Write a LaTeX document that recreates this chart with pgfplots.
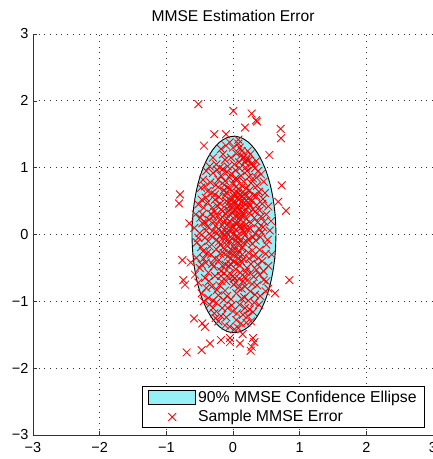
\documentclass[border=0pt]{standalone}
\usepackage{pgfplots}
\pgfplotsset{compat=1.18}
\usepackage{fontspec}
\setmainfont{Liberation Sans}
\definecolor{ellfill}{RGB}{150,240,248}
\definecolor{axgray}{RGB}{50,50,50}
\pgfplotsset{
  ellleg/.style={legend image code/.code={\draw[fill=ellfill,draw=black,line width=0.6pt] (0pt,-7pt) rectangle (47pt,7pt);}},
  markleg/.style={legend image code/.code={\draw[mark repeat=2,mark phase=2,##1] plot coordinates {(0pt,0pt) (23.5pt,0pt) (47pt,0pt)};}},
}
\begin{document}
\begin{tikzpicture}[x=1pt,y=1pt]
\begin{axis}[
  at={(33pt,24pt)}, anchor=south west,
  scale only axis, width=400pt, height=401pt,
  xmin=-3, xmax=3, ymin=-3, ymax=3,
  xtick={-3,-2,-1,0,1,2,3}, ytick={-3,-2,-1,0,1,2,3},
  xticklabels={−3,−2,−1,0,1,2,3}, yticklabels={−3,−2,−1,0,1,2,3},
  axis lines*=left,
  axis line style={axgray, line width=0.9pt},
  tick align=inside, major tick length=4pt,
  tick style={axgray, line width=0.6pt},
  grid=major,
  major grid style={color=black!80, line width=0.7pt, dash pattern=on 0.7pt off 5pt},
  tick label style={font=\fontsize{14.5}{16}\selectfont},
  xticklabel style={yshift=-4pt},
  yticklabel style={xshift=-1pt},
  title={MMSE Estimation Error},
  title style={at={(0.5,1)}, anchor=base, yshift=7pt, font=\fontsize{15.6}{17}\selectfont},
  legend style={at={(0.98,0.018)}, anchor=south east, draw=black, line width=0.6pt,
    font=\fontsize{15.8}{18}\selectfont, cells={anchor=west}, row sep=3pt,
    inner xsep=6pt, inner ysep=2pt},
  legend cell align=left,
]
\addplot[fill=ellfill, draw=black, line width=0.9pt, smooth, ellleg]
coordinates {
(0.645,0) (0.635,0.255) (0.607,0.503) (0.561,0.735) (0.498,0.945) (0.420,1.126) (0.330,1.273) (0.231,1.381) (0.124,1.448) (0.015,1.47)
(-0.094,1.448) (-0.201,1.381) (-0.300,1.273) (-0.390,1.126) (-0.468,0.945) (-0.531,0.735) (-0.577,0.503) (-0.605,0.255) (-0.615,0)
(-0.605,-0.255) (-0.577,-0.503) (-0.531,-0.735) (-0.468,-0.945) (-0.390,-1.126) (-0.300,-1.273) (-0.201,-1.381) (-0.094,-1.448) (0.015,-1.47)
(0.124,-1.448) (0.231,-1.381) (0.330,-1.273) (0.420,-1.126) (0.498,-0.945) (0.561,-0.735) (0.607,-0.503) (0.635,-0.255) (0.645,0)
};
\addlegendentry{90\% MMSE Confidence Ellipse}
\addplot[only marks, mark=x, mark size=5.5pt, red, mark options={line width=0.85pt}, markleg]
table[row sep=\\] {
x y\\
-0.52 1.95\\ 0.005 1.85\\ 0.28 1.81\\ 0.345 1.71\\ 0.36 1.69\\ 0.18 1.60\\ 0.715 1.58\\ 0.72 1.44\\
-0.28 1.50\\ -0.105 1.50\\ -0.435 1.33\\ 0.08 1.36\\ -0.105 1.33\\ 0.545 1.19\\
-0.795 0.60\\ -0.81 0.465\\ 0.73 0.735\\ 0.795 0.355\\ 0.68 0.49\\ -0.655 0.166\\
-0.76 -0.383\\ -0.745 -0.683\\ -0.72 -0.75\\ 0.845 -0.683\\ -0.635 -0.418\\ 0.53 -0.81\\ 0.63 -0.88\\ 0.49 -0.85\\
-0.585 -1.256\\ -0.46 -1.33\\ -0.42 -1.38\\ -0.695 -1.765\\ -0.47 -1.73\\ -0.345 -1.63\\ -0.18 -1.58\\
-0.045 -1.55\\ -0.045 -1.61\\ 0.105 -1.63\\ 0.145 -1.49\\ 0.30 -1.55\\ 0.32 -1.61\\ 0.28 -1.68\\ 0.265 -1.74\\
-0.25 1.05\\ -0.12 1.12\\ 0.05 1.21\\ 0.18 1.08\\ 0.30 1.02\\ 0.10 1.30\\ -0.05 1.38\\ 0.22 1.25\\ -0.30 1.15\\ 0.12 1.18\\
0.15 1.14\\ 0.16 1.16\\ 0.20 1.12\\ -0.18 1.28\\ 0.02 1.05\\ 0.35 1.10\\ -0.08 1.02\\ 0.26 1.20\\ 0.08 1.42\\ -0.20 1.00\\
-0.45 0.82\\ -0.38 0.65\\ -0.30 0.92\\ -0.22 0.71\\ -0.15 0.98\\ -0.10 0.63\\ -0.05 0.85\\ 0.00 0.75\\ 0.04 0.96\\ 0.08 0.68\\
0.12 0.88\\ 0.16 0.79\\ 0.21 0.95\\ 0.25 0.66\\ 0.30 0.84\\ 0.36 0.73\\ 0.42 0.90\\ 0.48 0.62\\ -0.34 0.78\\ -0.27 0.60\\
-0.12 0.80\\ 0.02 0.62\\ 0.18 0.61\\ 0.33 0.99\\ -0.40 0.95\\ 0.46 0.79\\ -0.02 0.91\\ 0.10 0.99\\ -0.18 0.88\\ 0.27 0.77\\
0.06 0.83\\ -0.24 0.97\\ 0.39 0.64\\ -0.08 0.70\\ 0.14 0.72\\ -0.48 0.70\\
-0.52 0.45\\ -0.46 0.30\\ -0.41 0.55\\ -0.36 0.22\\ -0.31 0.40\\ -0.27 0.52\\ -0.23 0.28\\ -0.19 0.46\\ -0.15 0.35\\ -0.12 0.58\\
-0.09 0.24\\ -0.06 0.42\\ -0.03 0.51\\ 0.00 0.33\\ 0.03 0.47\\ 0.05 0.26\\ 0.07 0.55\\ 0.10 0.38\\ 0.13 0.49\\ 0.16 0.29\\
0.19 0.57\\ 0.22 0.41\\ 0.25 0.32\\ 0.28 0.50\\ 0.32 0.25\\ 0.36 0.44\\ 0.40 0.36\\ 0.45 0.53\\ 0.50 0.30\\ 0.53 0.42\\
-0.44 0.40\\ -0.33 0.31\\ -0.21 0.56\\ -0.05 0.30\\ 0.01 0.58\\ 0.08 0.44\\ 0.11 0.22\\ 0.17 0.48\\ 0.24 0.55\\ 0.30 0.38\\
-0.38 0.48\\ -0.16 0.26\\ -0.01 0.40\\ 0.04 0.36\\ 0.14 0.34\\ 0.20 0.23\\ -0.28 0.34\\ -0.10 0.50\\ 0.35 0.57\\ -0.49 0.25\\
0.42 0.27\\ 0.09 0.52\\ -0.07 0.36\\ 0.26 0.44\\ -0.24 0.43\\
-0.58 0.10\\ -0.54 -0.12\\ -0.50 0.02\\ -0.46 0.17\\ -0.42 -0.05\\ -0.38 0.12\\ -0.35 -0.18\\ -0.31 0.05\\ -0.28 0.19\\ -0.25 -0.08\\
-0.22 0.08\\ -0.19 -0.15\\ -0.16 0.14\\ -0.13 0.00\\ -0.10 -0.10\\ -0.07 0.16\\ -0.04 0.04\\ -0.02 -0.06\\ 0.00 0.12\\ 0.02 -0.16\\
0.04 0.07\\ 0.06 -0.02\\ 0.08 0.18\\ 0.10 -0.09\\ 0.12 0.10\\ 0.14 -0.19\\ 0.17 0.03\\ 0.20 0.15\\ 0.23 -0.07\\ 0.26 0.09\\
0.29 -0.14\\ 0.33 0.01\\ 0.37 0.18\\ 0.41 -0.04\\ 0.45 0.11\\ 0.50 -0.15\\ 0.55 0.06\\ -0.48 -0.19\\ -0.40 0.06\\ -0.33 -0.02\\
-0.26 0.13\\ -0.20 -0.03\\ -0.14 0.19\\ -0.08 -0.17\\ -0.03 0.09\\ 0.01 0.01\\ 0.05 0.15\\ 0.09 -0.13\\ 0.15 0.06\\ 0.21 -0.11\\
0.27 0.17\\ 0.34 -0.09\\ 0.43 0.03\\ -0.12 0.06\\ 0.07 -0.05\\ -0.06 -0.11\\ 0.18 -0.01\\ -0.17 0.04\\ 0.11 0.13\\
-0.55 -0.35\\ -0.50 -0.50\\ -0.45 -0.25\\ -0.41 -0.42\\ -0.37 -0.57\\ -0.33 -0.30\\ -0.29 -0.48\\ -0.25 -0.22\\ -0.21 -0.38\\ -0.18 -0.55\\
-0.14 -0.28\\ -0.11 -0.45\\ -0.08 -0.33\\ -0.05 -0.58\\ -0.02 -0.24\\ 0.01 -0.41\\ 0.04 -0.52\\ 0.07 -0.30\\ 0.10 -0.46\\ 0.13 -0.21\\
0.16 -0.37\\ 0.19 -0.56\\ 0.23 -0.27\\ 0.27 -0.44\\ 0.31 -0.32\\ 0.35 -0.53\\ 0.40 -0.23\\ 0.44 -0.40\\ 0.49 -0.29\\ 0.53 -0.47\\
-0.47 -0.45\\ -0.27 -0.36\\ -0.16 -0.47\\ -0.03 -0.36\\ 0.06 -0.43\\ 0.14 -0.30\\ 0.21 -0.50\\ 0.29 -0.24\\ 0.38 -0.35\\ -0.39 -0.28\\
-0.07 -0.26\\ 0.11 -0.57\\
-0.52 -0.72\\ -0.47 -0.88\\ -0.42 -0.65\\ -0.37 -0.95\\ -0.32 -0.78\\ -0.27 -0.62\\ -0.22 -0.91\\ -0.17 -0.70\\ -0.12 -0.84\\ -0.07 -0.64\\
-0.03 -0.97\\ 0.01 -0.75\\ 0.05 -0.88\\ 0.09 -0.66\\ 0.13 -0.81\\ 0.17 -0.94\\ 0.21 -0.69\\ 0.26 -0.85\\ 0.31 -0.63\\ 0.36 -0.76\\
0.41 -0.92\\ 0.46 -0.68\\ -0.40 -0.80\\ -0.20 -0.76\\ 0.00 -0.62\\ 0.18 -0.78\\ 0.33 -0.90\\ -0.09 -0.92\\ 0.23 -0.99\\ -0.30 -0.99\\
-0.35 -1.05\\ -0.28 -1.18\\ -0.22 -1.30\\ -0.16 -1.10\\ -0.10 -1.24\\ -0.05 -1.38\\ 0.00 -1.15\\ 0.05 -1.28\\ 0.10 -1.05\\ 0.15 -1.20\\
0.20 -1.32\\ 0.25 -1.12\\ 0.32 -1.02\\ -0.12 -1.36\\ 0.08 -1.40\\ -0.25 -1.02\\ 0.18 -1.10\\ -0.02 -1.06\\ 0.12 -1.33\\ -0.18 -1.22\\
-0.05 0.20\\ 0.03 0.18\\ 0.12 0.28\\ -0.11 0.31\\ 0.06 0.40\\ -0.02 0.45\\ 0.15 0.42\\ 0.22 0.08\\ -0.09 0.02\\ 0.04 -0.09\\
-0.15 -0.20\\ 0.09 -0.25\\ 0.00 -0.30\\ -0.20 0.22\\ 0.18 0.35\\ 0.07 0.62\\ -0.04 0.68\\ 0.13 0.57\\ 0.03 0.83\\ -0.13 0.74\\
0.24 0.86\\ 0.19 1.00\\ 0.28 1.06\\ -0.06 -0.48\\ 0.17 -0.63\\ -0.10 -0.70\\ 0.08 -0.80\\ 0.26 -0.58\\ 0.02 -0.66\\ -0.18 -0.62\\
-0.32 0.62\\ -0.26 0.74\\ -0.14 0.66\\ 0.05 0.72\\ 0.20 0.69\\ 0.31 0.58\\ -0.42 0.18\\ -0.30 0.27\\ -0.18 0.37\\ -0.07 0.47\\
0.11 0.60\\ 0.23 0.48\\ 0.33 0.34\\ 0.47 0.19\\ -0.52 -0.05\\ -0.37 -0.10\\ -0.24 0.02\\ -0.11 -0.05\\ 0.03 -0.22\\ 0.16 -0.12\\
0.30 -0.04\\ 0.39 0.09\\ 0.52 -0.08\\ -0.44 -0.36\\ -0.31 -0.44\\ -0.19 -0.29\\ -0.04 -0.44\\ 0.09 -0.36\\ 0.24 -0.36\\ 0.37 -0.45\\
0.46 -0.55\\ -0.36 -0.70\\ -0.24 -0.83\\ -0.13 -0.58\\ 0.04 -0.72\\ 0.15 -0.70\\ 0.29 -0.74\\ 0.40 -0.60\\ -0.08 -1.10\\ 0.06 -1.18\\
0.22 -1.22\\ -0.30 -1.10\\ -0.14 -0.98\\ 0.13 -0.96\\ 0.30 -1.16\\ -0.03 1.15\\ 0.09 1.08\\ 0.24 1.12\\ -0.15 1.20\\ -0.35 1.02\\
0.38 0.95\\ -0.09 0.94\\ 0.13 1.25\\ 0.00 1.30\\ -0.22 0.82\\ 0.35 0.85\\ -0.42 0.72\\ 0.44 0.46\\ -0.47 0.52\\ -0.56 0.30\\
0.57 0.20\\ 0.58 -0.30\\ -0.57 -0.60\\ 0.50 -0.70\\ -0.44 -1.00\\ 0.39 -1.05\\ -0.26 -1.25\\ 0.27 -1.30\\ 0.02 -1.42\\ -0.02 0.55\\
0.17 0.12\\ -0.21 -0.11\\ 0.12 -0.40\\ -0.09 0.14\\ 0.06 0.30\\
};
\addlegendentry{Sample MMSE Error}
\end{axis}
\pgfresetboundingbox
\path[use as bounding box] (0,0) rectangle (433pt,459pt);
\end{tikzpicture}
\end{document}
